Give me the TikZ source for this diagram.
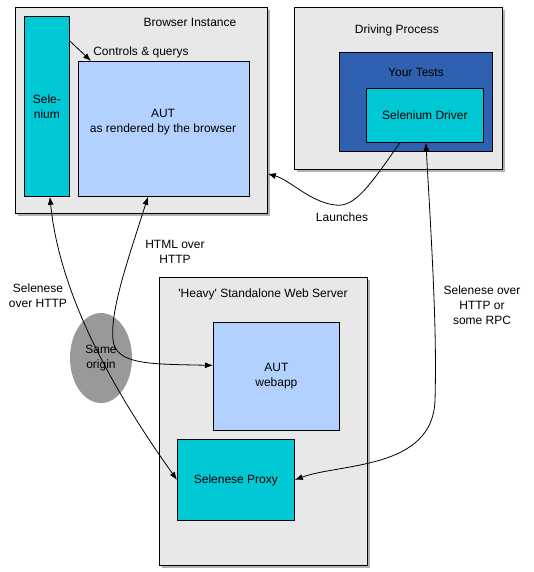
\documentclass[tikz,border=0pt]{standalone}
\usepackage{fontspec}
\setmainfont{Liberation Sans}
\usetikzlibrary{arrows.meta,shadows,shapes.geometric}
\definecolor{panelgrey}{HTML}{E8E8E8}
\definecolor{selcyan}{HTML}{00C8D4}
\definecolor{autblue}{HTML}{B3D1FF}
\definecolor{testblue}{HTML}{3060B0}
\definecolor{origingrey}{HTML}{999999}
\tikzset{
  panel/.style={draw, fill=panelgrey, anchor=north west, inner sep=0pt,
    drop shadow={shadow xshift=2.5pt, shadow yshift=-2.5pt, fill=black, opacity=.3}},
  part/.style={draw, anchor=north west, inner sep=0pt, align=center},
  lbl/.style={align=center, inner sep=0pt},
  link/.style={{Latex[length=8pt,width=6pt]}-{Latex[length=8pt,width=6pt]}}
}

\begin{document}
\begin{tikzpicture}[x=1pt, y=-1pt, line width=.8pt, font=\fontsize{12}{15}\selectfont]
\useasboundingbox (0,0) rectangle (534,572);

\node [panel, minimum width=252pt, minimum height=206pt] (bi) at (15,7) {};
\node [part, fill=selcyan, minimum width=45pt, minimum height=180pt] (sel) at (24,16) {Sele-\\nium};
\node [part, fill=autblue, minimum width=171pt, minimum height=135pt] (aut) at (78,61) {};
\node [lbl] (bilabel) at (190,22) {Browser Instance};
\node [lbl] (ctrllabel) at (141,52) {Controls \& querys};
\node [lbl] (autlabel) at (163,122) {AUT\\as rendered by the browser};

\node [panel, minimum width=208pt, minimum height=162pt] (dp) at (294,7) {};
\node [part, fill=testblue, minimum width=153pt, minimum height=99pt] (yt) at (339,52) {};
\node [part, fill=selcyan, minimum width=117pt, minimum height=54pt] (drv) at (366,88) {Selenium Driver};
\node [lbl] (dplabel) at (397,30) {Driving Process};
\node [lbl] (ytlabel) at (416,72) {Your Tests};

\node [panel, minimum width=208pt, minimum height=288pt] (ws) at (159,277) {};
\node [part, fill=autblue, minimum width=126pt, minimum height=108pt] (app) at (213,322) {AUT\\webapp};
\node [part, fill=selcyan, minimum width=117pt, minimum height=81pt] (proxy) at (177,439) {Selenese Proxy};
\node [lbl] (wslabel) at (263,294) {\textquotesingle Heavy\textquotesingle{} Standalone Web Server};

\node [ellipse, fill=origingrey, minimum width=62pt, minimum height=90pt, inner sep=0pt, align=center] (origin) at (101,358) {Same\\origin};

\node [lbl] (launchlabel) at (342,217) {Launches};
\node [lbl] (htmllabel) at (175,252) {HTML over\\HTTP};
\node [lbl] (selhttplabel) at (38,296) {Selenese\\over HTTP};
\node [lbl] (rpclabel) at (482,305) {Selenese over\\HTTP or\\some RPC};

\draw [-{Latex[length=8pt,width=6pt]}] ([yshift=-25pt]sel.north east) -- ([xshift=13pt]aut.north west);
\draw [-{Latex[length=8pt,width=6pt]}] ([xshift=-25pt]drv.south) .. controls (370,185) and (355,208) .. (335,205)
  .. controls (310,202) and (290,180) .. ([yshift=40pt]bi.south east);
\draw [link] ([xshift=1pt]drv.south) .. controls (432,250) and (437,330) .. (435,400)
  .. controls (433,470) and (340,463) .. (proxy.east);
\draw [link] ([xshift=3pt]sel.south) .. controls (60,300) and (120,400) .. (proxy.west);
\draw [link] ([xshift=-16pt]aut.south) .. controls (128,260) and (110,310) .. (113,340)
  .. controls (116,365) and (150,364) .. ([yshift=11pt]app.west);
\end{tikzpicture}
\end{document}
